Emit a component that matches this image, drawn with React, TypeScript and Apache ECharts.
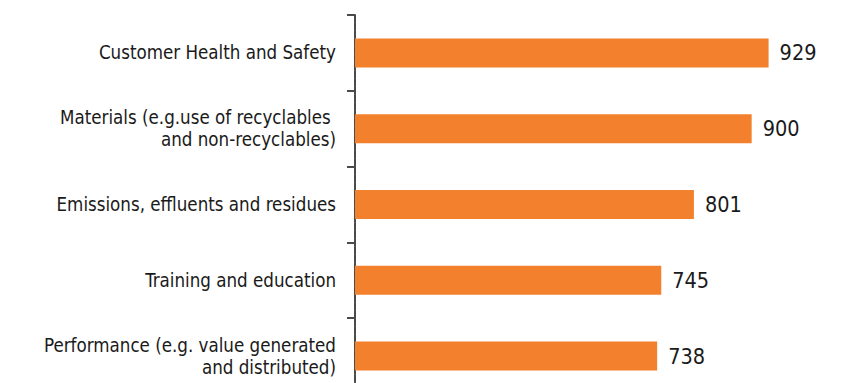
import React, { useEffect, useRef } from "react";
import * as echarts from "echarts";

const categories = [
  "Customer Health and Safety",
  "Materials (e.g.use of recyclables \nand non-recyclables)",
  "Emissions, effluents and residues",
  "Training and education",
  "Performance (e.g. value generated\nand distributed)",
];
const values = [929, 900, 801, 745, 738];

const FONT = "'DejaVu Sans Condensed', 'Liberation Sans', sans-serif";

export default function App() {
  const ref = useRef<HTMLDivElement>(null);
  useEffect(() => {
    if (!ref.current) return;
    const chart = echarts.init(ref.current, null, { renderer: "svg" });
    chart.setOption({
      animation: false,
      grid: { left: 355, right: 36, top: 15, bottom: 0, containLabel: false },
      xAxis: {
        type: "value",
        min: 220,
        max: 1000,
        show: false,
      },
      yAxis: {
        type: "category",
        inverse: true,
        data: categories,
        axisLine: { show: true, lineStyle: { color: "#4a4a4a", width: 2, type: [7, 1] } },
        axisTick: { show: true, length: 8, inside: false, lineStyle: { color: "#4a4a4a", width: 2 } },
        axisLabel: {
          color: "#1a1a1a",
          fontSize: 18.6,
          fontFamily: FONT,
          margin: 19,
          lineHeight: 22,
          align: "right",
        },
        splitLine: { show: false },
      },
      series: [
        {
          type: "bar",
          data: values,
          barWidth: 29,
          itemStyle: { color: "#F2802C" },
          label: {
            show: true,
            position: "right",
            distance: 11,
            color: "#1a1a1a",
            fontSize: 21.5,
            fontFamily: FONT,
          },
        },
      ],
    });
    return () => chart.dispose();
  }, []);
  return (
    <div
      ref={ref}
      style={{ position: "absolute", left: 0, top: 0, width: 846, height: 394, background: "#fff" }}
    />
  );
}
